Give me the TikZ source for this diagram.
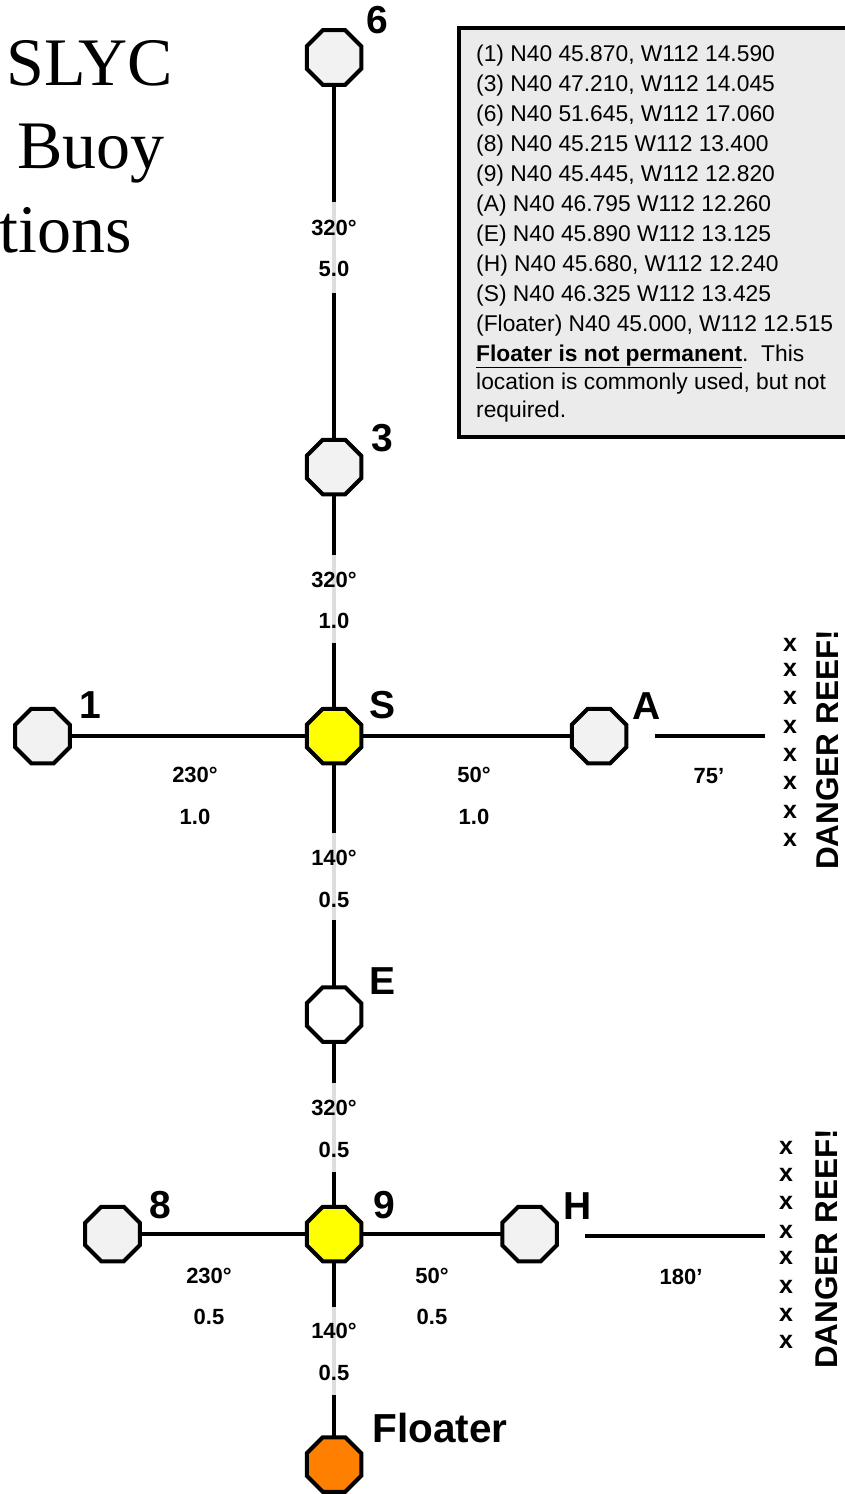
\documentclass[tikz,border=0pt]{standalone}
\usepackage{fontspec}
\setmainfont{Liberation Serif}
\newfontfamily\arial{Liberation Sans}
\usetikzlibrary{shapes.geometric}
\definecolor{buoygray}{HTML}{F2F2F2}
\definecolor{buoyyellow}{HTML}{FFFF00}
\definecolor{buoyorange}{HTML}{FF7F00}
\definecolor{boxgray}{HTML}{EBEBEB}
\definecolor{linegray}{HTML}{DDDDDD}
\begin{document}
\begin{tikzpicture}[x=1pt,y=-1pt,
  buoy/.style={regular polygon, regular polygon sides=8, minimum size=59pt, inner sep=0pt, outer sep=0pt, draw=black, line width=4pt, fill=buoygray},
  conn/.style={draw=black, line width=3.5pt},
  glink/.style={draw=linegray, line width=3.5pt},
  bname/.style={font=\arial\bfseries\fontsize{39}{39}\selectfont, inner sep=0pt},
  elab/.style={font=\arial\bfseries\fontsize{22}{22}\selectfont, inner sep=0pt},
  xmark/.style={font=\arial\bfseries\fontsize{25}{25}\selectfont, inner sep=0pt},
  reef/.style={font=\arial\bfseries\fontsize{31.5}{31.5}\selectfont, inner sep=0pt, rotate=90},
  title/.style={font=\fontsize{68}{68}\selectfont, inner sep=0pt, anchor=base west}]
\useasboundingbox (0,0) rectangle (844,1494);
\fill[white] (0,0) rectangle (844,1494);

% title
\node[title] (t1) at (6,85) {SLYC};
\node[title] (t2) at (17,168) {Buoy};
\node[title] (t3) at (-1,252) {tions};

% info box
\draw[line width=4pt, fill=boxgray] (459,28) rectangle (870,437);
\node[anchor=north west, inner sep=0pt, align=left, font=\arial\fontsize{22.8}{30}\selectfont] (info) at (476,44.5) {%
(1) N40 45.870, W112 14.590\\
(3) N40 47.210, W112 14.045\\
(6) N40 51.645, W112 17.060\\
(8) N40 45.215 W112 13.400\\
(9) N40 45.445, W112 12.820\\
(A) N40 46.795 W112 12.260\\
(E) N40 45.890 W112 13.125\\
(H) N40 45.680, W112 12.240\\
(S) N40 46.325 W112 13.425\\
(Floater) N40 45.000, W112 12.515\\
\underline{\textbf{Floater is not permanent}}.~~This\\[-2pt]
location is commonly used, but not\\[-2pt]
required.};

% buoys
\node[buoy] (b6) at (334,57.5) {};
\node[buoy] (b3) at (334,467) {};
\node[buoy, fill=buoyyellow] (bS) at (334,736) {};
\node[buoy] (b1) at (42.5,736) {};
\node[buoy] (bA) at (599,736) {};
\node[buoy, fill=white] (bE) at (334,1014.5) {};
\node[buoy, fill=buoyyellow] (b9) at (334,1234) {};
\node[buoy] (b8) at (112.5,1234) {};
\node[buoy] (bH) at (529.5,1234) {};
\node[buoy, fill=buoyorange] (bF) at (334,1464.5) {};

% connectors
\draw[conn] (b6) -- (b3);
\draw[conn] (b3) -- (bS);
\draw[conn] (bS) -- (bE);
\draw[conn] (bE) -- (b9);
\draw[conn] (b9) -- (bF);
\draw[conn] (b1) -- (bS);
\draw[conn] (bS) -- (bA);
\draw[conn] (b8) -- (b9);
\draw[conn] (b9) -- (bH);

% reef lines
\coordinate (ra1) at (655,736);
\coordinate (ra2) at (765,736);
\coordinate (rh1) at (585,1236);
\coordinate (rh2) at (765,1236);
\draw[conn] (ra1) -- (ra2);
\draw[conn] (rh1) -- (rh2);

% gray label segments
\coordinate (g1a) at (334,202); \coordinate (g1b) at (334,293);
\coordinate (g2a) at (334,555); \coordinate (g2b) at (334,643);
\coordinate (g3a) at (334,833); \coordinate (g3b) at (334,920);
\coordinate (g4a) at (334,1083); \coordinate (g4b) at (334,1172);
\coordinate (g5a) at (334,1307); \coordinate (g5b) at (334,1395);
\draw[glink] (g1a) -- (g1b);
\draw[glink] (g2a) -- (g2b);
\draw[glink] (g3a) -- (g3b);
\draw[glink] (g4a) -- (g4b);
\draw[glink] (g5a) -- (g5b);

% buoy names
\node[bname] (n6) at (377,20) {6};
\node[bname] (n3) at (382,438) {3};
\node[bname] (nS) at (383,705) {S};
\node[bname] (n1) at (90,705) {1};
\node[bname] (nA) at (647,706) {A};
\node[bname] (nE) at (383,981) {E};
\node[bname] (n8) at (160,1205) {8};
\node[bname] (n9) at (384,1205) {9};
\node[bname] (nH) at (578,1206) {H};
\node[bname, font=\arial\bfseries\fontsize{40.5}{40.5}\selectfont] (nF) at (440,1428) {Floater};

% edge labels
\node[elab] (e1a) at (334,228) {320°};
\node[elab] (e1b) at (334,269) {5.0};
\node[elab] (e2a) at (334,580) {320°};
\node[elab] (e2b) at (334,621) {1.0};
\node[elab] (e3a) at (334,858) {140°};
\node[elab] (e3b) at (334,900) {0.5};
\node[elab] (e4a) at (334,1108) {320°};
\node[elab] (e4b) at (334,1150) {0.5};
\node[elab] (e5a) at (334,1331) {140°};
\node[elab] (e5b) at (334,1373) {0.5};
\node[elab] (h1a) at (195,775) {230°};
\node[elab] (h1b) at (195,817) {1.0};
\node[elab] (h2a) at (474,775) {50°};
\node[elab] (h2b) at (474,817) {1.0};
\node[elab] (h3) at (709,776) {75’};
\node[elab] (h4a) at (209,1276) {230°};
\node[elab] (h4b) at (209,1317) {0.5};
\node[elab] (h5a) at (432,1276) {50°};
\node[elab] (h5b) at (432,1317) {0.5};
\node[elab] (h6) at (681,1277) {180’};

% reef marks
\foreach \i/\yy in {1/645,2/670,3/698,4/727,5/755,6/783,7/812,8/840}
  \node[xmark] (xa\i) at (790,\yy) {x};
\foreach \i/\yy in {1/1148,2/1175,3/1203,4/1232,5/1258,6/1287,7/1315,8/1342}
  \node[xmark] (xh\i) at (786,\yy) {x};
\node[reef] (reefA) at (828,750) {DANGER REEF!};
\node[reef] (reefH) at (827,1249) {DANGER REEF!};
\end{tikzpicture}
\end{document}
